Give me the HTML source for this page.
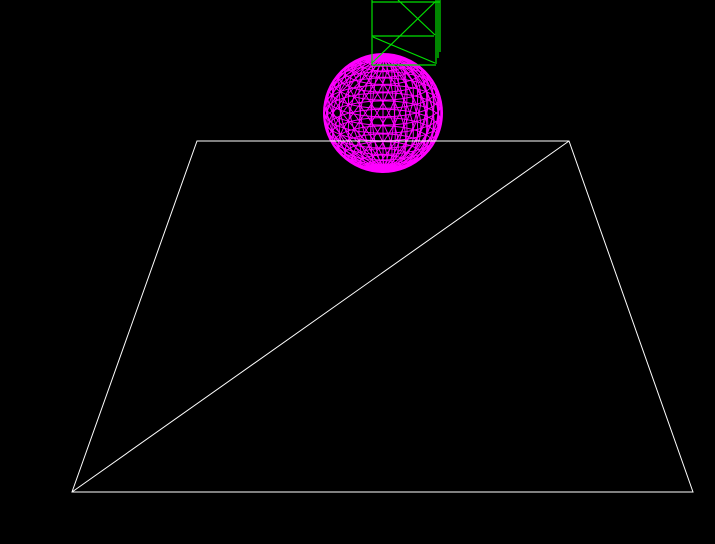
<!DOCTYPE html>
<html><head><meta charset="utf-8"><style>
html,body{margin:0;padding:0;background:#000;width:715px;height:544px;overflow:hidden}
svg{display:block}
</style></head><body>
<svg id="scene" width="715" height="544" viewBox="0 0 715 544">
<rect width="715" height="544" fill="#000"/>
<g id="sphere" stroke="#ff00ff" stroke-width="1" fill="none"></g>
<g stroke="#fff" stroke-width="1" fill="none">
<polygon points="197,141 569,141 693,492 72,492"/>
<line x1="72" y1="492" x2="569" y2="141"/>
</g>
<g stroke="#00e000" stroke-width="1.2" fill="none">
<line x1="372" y1="0" x2="372" y2="65"/>
<line x1="436" y1="0" x2="436" y2="64"/>
<line x1="440" y1="0" x2="440" y2="52"/>
<line x1="438" y1="0" x2="438" y2="58"/>
<line x1="372" y1="2" x2="440" y2="2"/>
<line x1="372" y1="36" x2="434" y2="36"/>
<line x1="372" y1="65" x2="436" y2="65"/>
<line x1="372" y1="63" x2="435" y2="2"/>
<line x1="398" y1="0" x2="435" y2="35"/>
<line x1="373" y1="37" x2="435" y2="63"/>
</g>
</svg>
<script>
const cx=383, cy=113, R=59;
const nLat=22, nLon=30, tilt=0.35;
const g=document.getElementById('sphere');
function proj(lat,lon){
  const x=Math.cos(lat)*Math.sin(lon), y=Math.sin(lat), z=Math.cos(lat)*Math.cos(lon);
  const y2=y*Math.cos(tilt)-z*Math.sin(tilt);
  return [cx+R*x, cy-R*y2];
}
function addPath(pts,name){
  const p=document.createElementNS('http://www.w3.org/2000/svg','path');
  p.setAttribute('d','M'+pts.map(q=>q[0].toFixed(1)+','+q[1].toFixed(1)).join('L'));
  
  
  g.appendChild(p);
}
for(let i=1;i<nLat;i++){
  const lat=-Math.PI/2+Math.PI*i/nLat, pts=[];
  for(let j=0;j<=nLon;j++) pts.push(proj(lat,2*Math.PI*j/nLon));
  addPath(pts,'sphere-latitude');
}
for(let j=0;j<nLon;j++){
  const lon=2*Math.PI*j/nLon, pts=[];
  for(let i=0;i<=nLat;i++) pts.push(proj(-Math.PI/2+Math.PI*i/nLat,lon));
  addPath(pts,'sphere-longitude');
}
for(let j=0;j<nLon;j++){
  const lon=2*Math.PI*j/nLon, pts=[];
  for(let i=0;i<=nLat;i++) pts.push(proj(-Math.PI/2+Math.PI*i/nLat,lon+Math.PI*i/nLat*0.6));
  addPath(pts,'sphere-diagonal');
}
const c=document.createElementNS('http://www.w3.org/2000/svg','circle');
c.setAttribute('cx',cx);c.setAttribute('cy',cy);c.setAttribute('r',R);c.setAttribute('stroke-width','2');


g.appendChild(c);
</script>
</body></html>
